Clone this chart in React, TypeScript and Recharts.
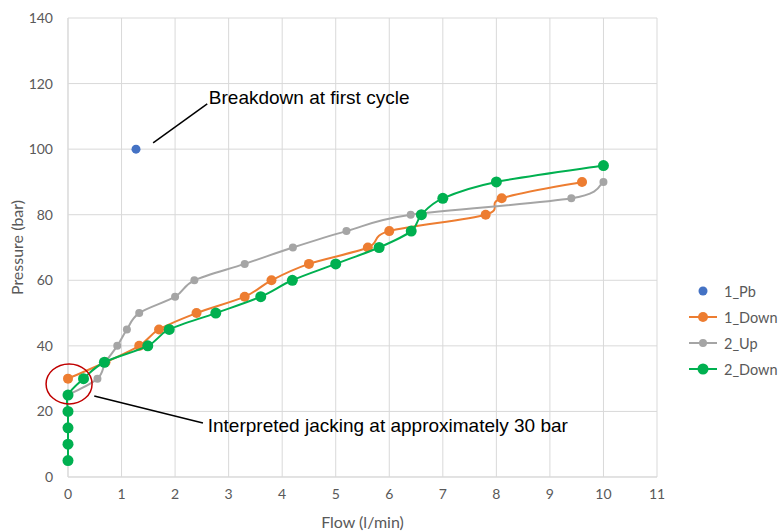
import React from "react";
import {
  ScatterChart,
  Scatter,
  XAxis,
  YAxis,
  CartesianGrid,
  ReferenceLine,
  ReferenceDot,
} from "recharts";

// Flow (l/min) / pressure (bar) readings per cycle
const pbFlow = [1.27];
const pbPressure = [100];

const down1Flow = [0, 0.7, 1.33, 1.7, 2.4, 3.3, 3.8, 4.5, 5.6, 6.0, 7.8, 8.1, 9.6];
const down1Pressure = [30, 35, 40, 45, 50, 55, 60, 65, 70, 75, 80, 85, 90];

const up2Flow = [0, 0.55, 0.7, 0.92, 1.1, 1.33, 2.0, 2.36, 3.3, 4.2, 5.2, 6.4, 9.4, 10];
const up2Pressure = [25, 30, 35, 40, 45, 50, 55, 60, 65, 70, 75, 80, 85, 90];

const down2Flow = [0, 0, 0, 0, 0, 0.29, 0.68, 1.49, 1.89, 2.76, 3.6, 4.19, 5.0, 5.81, 6.41, 6.6, 7.0, 8.0, 10.0];
const down2Pressure = [5, 10, 15, 20, 25, 30, 35, 40, 45, 50, 55, 60, 65, 70, 75, 80, 85, 90, 95];

const xTicks = [0, 1, 2, 3, 4, 5, 6, 7, 8, 9, 10, 11];
const yTicks = [0, 20, 40, 60, 80, 100, 120, 140];

const toPoints = (xs: number[], ys: number[]) => xs.map((x, i) => ({ x, y: ys[i] }));

const series = [
  { name: "1_Pb", data: toPoints(pbFlow, pbPressure), color: "#4472c4", r: 4.5, line: false },
  { name: "1_Down", data: toPoints(down1Flow, down1Pressure), color: "#ed7d31", r: 5, line: true },
  { name: "2_Up", data: toPoints(up2Flow, up2Pressure), color: "#a5a5a5", r: 4, line: true },
  { name: "2_Down", data: toPoints(down2Flow, down2Pressure), color: "#00b050", r: 5.5, line: true },
];

const FONT = "Lato, 'Open Sans', sans-serif";
const TEXT_GREY = "#595959";
const NOTE_FONT = "'Liberation Sans', Arial, sans-serif";

// Excel-like smoothed line (Catmull-Rom as cubic beziers)
const smoothCurve = (context: any) => {
  let pts: number[][] = [];
  return {
    areaStart() {},
    areaEnd() {},
    lineStart() {
      pts = [];
    },
    point(x: number, y: number) {
      pts.push([+x, +y]);
    },
    lineEnd() {
      const n = pts.length;
      if (!n) return;
      context.moveTo(pts[0][0], pts[0][1]);
      const k = 1 / 6;
      for (let i = 0; i < n - 1; i++) {
        const p0 = pts[i - 1] || pts[i];
        const p1 = pts[i];
        const p2 = pts[i + 1];
        const p3 = pts[i + 2] || p2;
        context.bezierCurveTo(
          p1[0] + (p2[0] - p0[0]) * k,
          p1[1] + (p2[1] - p0[1]) * k,
          p2[0] - (p3[0] - p1[0]) * k,
          p2[1] - (p3[1] - p1[1]) * k,
          p2[0],
          p2[1]
        );
      }
    },
  };
};

const LegendBox = () => (
  <div
    style={{
      position: "absolute",
      left: 688,
      top: 278,
      fontFamily: FONT,
      fontSize: 14.5,
      color: TEXT_GREY,
    }}
  >
    {series.map((s) => (
      <div key={s.name} style={{ display: "flex", alignItems: "center", height: 26 }}>
        <svg width={30} height={12} style={{ marginRight: 6 }}>
          {s.line && <line x1={1} y1={6} x2={29} y2={6} stroke={s.color} strokeWidth={2} />}
          <circle cx={15} cy={6} r={s.r} fill={s.color} />
        </svg>
        <span>{s.name}</span>
      </div>
    ))}
  </div>
);

const App: React.FC = () => {
  return (
    <div style={{ position: "absolute", left: 0, top: 0, width: 780, height: 531, background: "#fff" }}>
      <ScatterChart width={780} height={531} margin={{ top: 18, right: 123, bottom: 0, left: 0 }}>
        <CartesianGrid stroke="#d9d9d9" strokeWidth={1} />
        <XAxis
          type="number"
          dataKey="x"
          domain={[0, 11]}
          ticks={xTicks}
          interval={0}
          height={54}
          tickLine={false}
          axisLine={{ stroke: "#d9d9d9" }}
          tickMargin={6}
          tick={{ fill: TEXT_GREY, fontSize: 14, fontFamily: FONT }}
          label={{
            value: "Flow (l/min)",
            position: "insideBottom",
            offset: 3,
            fill: TEXT_GREY,
            fontSize: 16,
            fontFamily: FONT,
          }}
        />
        <YAxis
          type="number"
          dataKey="y"
          domain={[0, 140]}
          ticks={yTicks}
          interval={0}
          width={68}
          tickLine={false}
          axisLine={{ stroke: "#d9d9d9" }}
          tickMargin={9}
          tick={{ fill: TEXT_GREY, fontSize: 14, fontFamily: FONT }}
          label={{
            value: "Pressure (bar)",
            angle: -90,
            position: "insideLeft",
            offset: 17,
            fill: TEXT_GREY,
            fontSize: 16,
            fontFamily: FONT,
            style: { textAnchor: "middle" },
          }}
        />
        {series.map((s) => (
          <Scatter
            key={s.name}
            name={s.name}
            data={s.data}
            fill={s.color}
            line={s.line ? { stroke: s.color, strokeWidth: 2 } : false}
            lineJointType={smoothCurve as any}
            isAnimationActive={false}
            shape={(p: any) => <circle cx={p.cx} cy={p.cy} r={s.r} fill={s.color} />}
          />
        ))}
        {/* annotations */}
        <ReferenceLine
          segment={[
            { x: 1.59, y: 101.9 },
            { x: 2.6, y: 113.8 },
          ]}
          stroke="#000"
          strokeWidth={1.5}
          ifOverflow="visible"
        />
        <ReferenceDot
          x={2.63}
          y={115.9}
          ifOverflow="visible"
          shape={(p: any) => (
            <text x={p.cx} y={p.cy} dy="0.35em" fontFamily={NOTE_FONT} fontSize={19} fill="#000">
              Breakdown at first cycle
            </text>
          )}
        />
        <ReferenceDot
          x={0.02}
          y={28.4}
          ifOverflow="visible"
          shape={(p: any) => (
            <ellipse cx={p.cx} cy={p.cy} rx={23} ry={20} fill="none" stroke="#c00000" strokeWidth={1.5} />
          )}
        />
        <ReferenceLine
          segment={[
            { x: 0.49, y: 24.7 },
            { x: 2.52, y: 16.5 },
          ]}
          stroke="#000"
          strokeWidth={1.5}
          ifOverflow="visible"
        />
        <ReferenceDot
          x={2.61}
          y={15.9}
          ifOverflow="visible"
          shape={(p: any) => (
            <text x={p.cx} y={p.cy} dy="0.35em" fontFamily={NOTE_FONT} fontSize={19} fill="#000">
              Interpreted jacking at approximately 30 bar
            </text>
          )}
        />
      </ScatterChart>
      <LegendBox />
    </div>
  );
};

export default App;
